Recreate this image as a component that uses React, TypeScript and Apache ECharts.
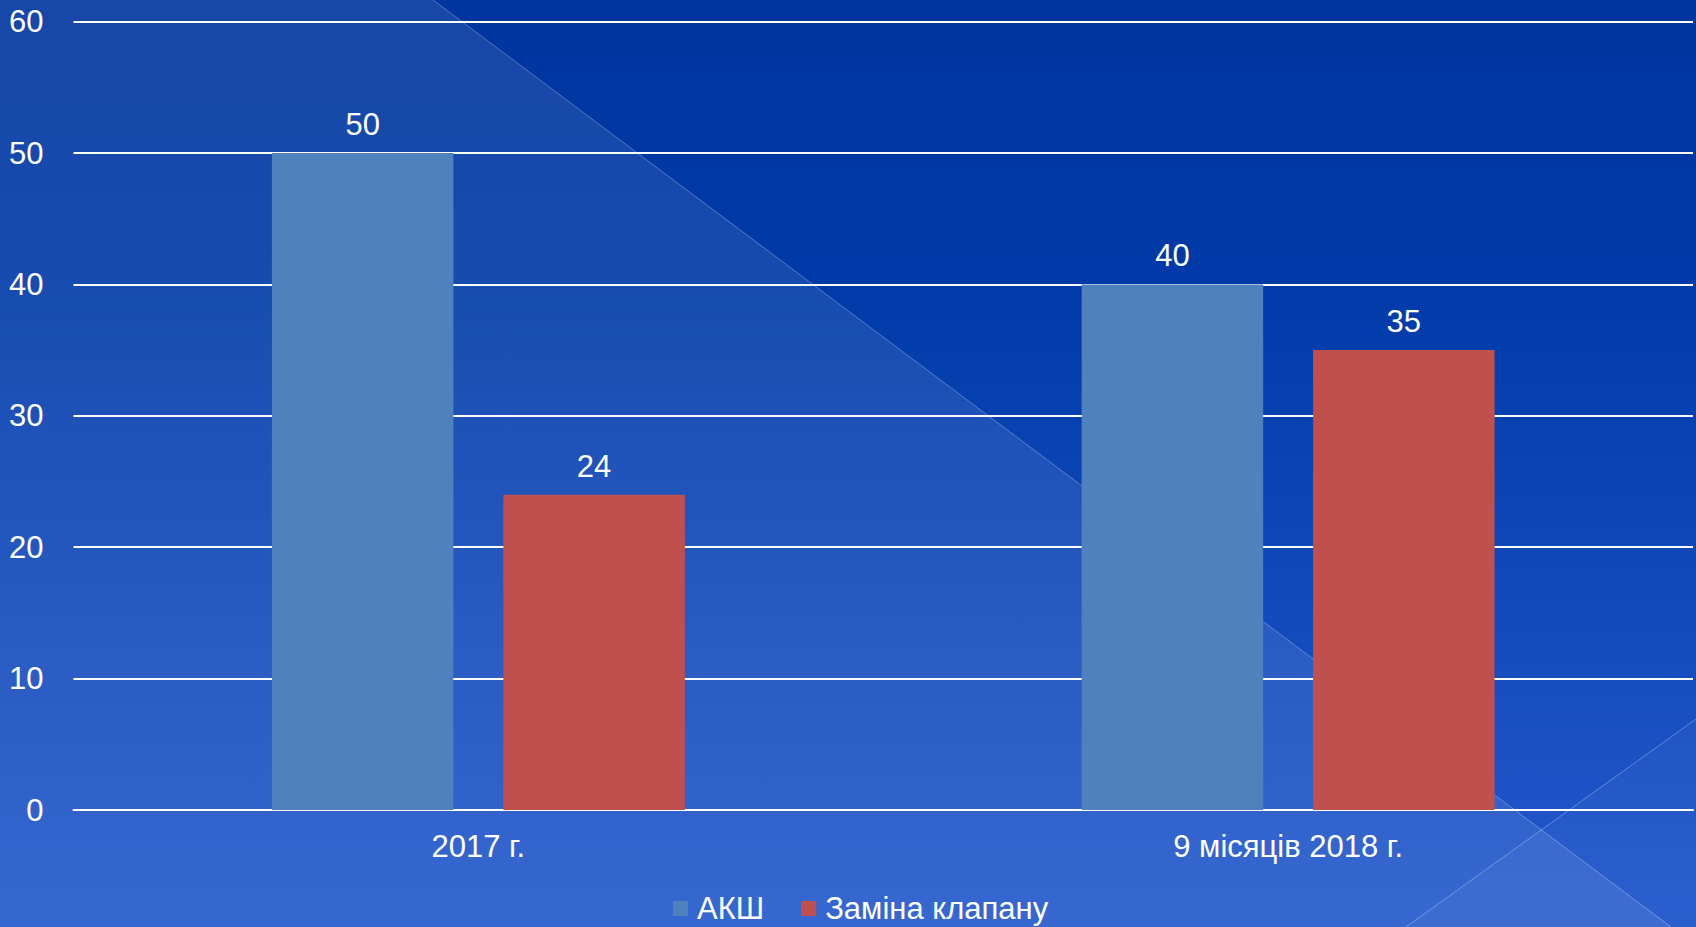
import React, { useEffect, useRef } from "react";
import * as echarts from "echarts";

const categories = ["2017 г.", "9 місяців 2018 г."];
const seriesNames = ["АКШ", "Заміна клапану"];
const aksh = [50, 40];
const valve = [24, 35];
const yTicks = { min: 0, max: 60, interval: 10 };

const W = 1696;
const H = 927;

export default function App() {
  const ref = useRef<HTMLDivElement>(null);
  useEffect(() => {
    if (!ref.current) return;
    const chart = echarts.init(ref.current, null, { renderer: "svg", width: W, height: H });
    const font = "'Liberation Sans', Arial, sans-serif";
    const fs = 31;
    chart.setOption({
      animation: false,
      backgroundColor: new echarts.graphic.LinearGradient(0, 0, 0, 1, [
        { offset: 0, color: "#00359f" },
        { offset: 0.3, color: "#003aa8" },
        { offset: 1, color: "#2459cd" },
      ]),
      graphic: [
        {
          type: "polygon",
          z: -10,
          silent: true,
          shape: { points: [[0, 0], [433, 0], [1671, 927], [0, 927]] },
          style: { fill: "rgba(255,255,255,0.09)" },
        },
        {
          type: "polygon",
          z: -10,
          silent: true,
          shape: { points: [[1406, 927], [1696, 719], [1696, 927]] },
          style: { fill: "rgba(255,255,255,0.04)" },
        },
        {
          type: "line",
          z: -9,
          silent: true,
          shape: { x1: 433, y1: 0, x2: 1671, y2: 927 },
          style: { stroke: "rgba(255,255,255,0.3)", lineWidth: 1 },
        },
        {
          type: "line",
          z: -9,
          silent: true,
          shape: { x1: 1406, y1: 927, x2: 1696, y2: 719 },
          style: { stroke: "rgba(255,255,255,0.3)", lineWidth: 1 },
        },
      ],
      textStyle: { fontFamily: font },
      grid: { left: 73.5, right: 3, top: 21.6, bottom: 117, containLabel: false },
      legend: {
        data: seriesNames,
        top: 888,
        left: 668,
        itemWidth: 15,
        itemHeight: 15,
        itemGap: 37,
        icon: "rect",
        textStyle: { color: "#ffffff", fontSize: fs, fontFamily: font, padding: [0, 0, 0, 4] },
      },
      xAxis: {
        type: "category",
        data: categories,
        axisLine: { show: true, lineStyle: { color: "#ffffff", width: 2 } },
        axisTick: { show: false },
        axisLabel: { color: "#ffffff", fontSize: fs, margin: 21, fontFamily: font },
        splitLine: { show: false },
      },
      yAxis: {
        type: "value",
        min: yTicks.min,
        max: yTicks.max,
        interval: yTicks.interval,
        axisLine: { show: false },
        axisTick: { show: false },
        axisLabel: { color: "#ffffff", fontSize: fs, margin: 30, fontFamily: font },
        splitLine: { show: true, lineStyle: { color: "#ffffff", width: 2 } },
      },
      series: [
        {
          name: seriesNames[0],
          type: "bar",
          data: aksh,
          barWidth: 181.5,
          barGap: "27.5%",
          itemStyle: { color: "#4f81bd" },
          label: { show: true, position: "top", distance: 13, color: "#ffffff", fontSize: fs, fontFamily: font },
        },
        {
          name: seriesNames[1],
          type: "bar",
          data: valve,
          barWidth: 181.5,
          barGap: "27.5%",
          itemStyle: { color: "#c0504d" },
          label: { show: true, position: "top", distance: 13, color: "#ffffff", fontSize: fs, fontFamily: font },
        },
      ],
    });
    return () => chart.dispose();
  }, []);
  return (
    <div
      ref={ref}
      style={{ position: "absolute", left: 0, top: 0, width: W, height: H }}
    />
  );
}
